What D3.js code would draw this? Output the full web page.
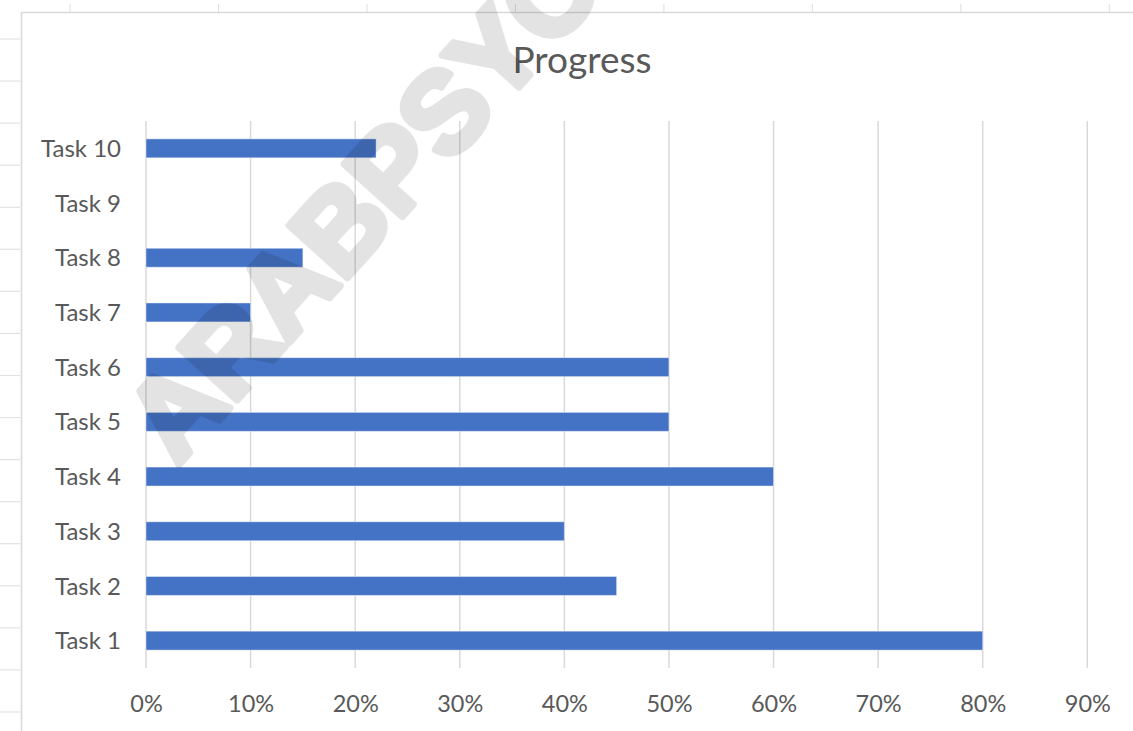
<!DOCTYPE html>
<html>
<head>
<meta charset="utf-8">
<script src="https://cdn.jsdelivr.net/npm/d3@7/dist/d3.min.js"></script>
<style>
  html, body { margin: 0; padding: 0; background: #fff; }
  svg { display: block; }
</style>
</head>
<body>
<svg id="chart" width="1133" height="731"></svg>
<script>
const categories = ["Task 1", "Task 2", "Task 3", "Task 4", "Task 5", "Task 6", "Task 7", "Task 8", "Task 9", "Task 10"];
const progress = [0.80, 0.45, 0.40, 0.60, 0.50, 0.50, 0.10, 0.15, 0.00, 0.22];
const xTicks = [0, 0.1, 0.2, 0.3, 0.4, 0.5, 0.6, 0.7, 0.8, 0.9];
const titleText = "Progress";
const watermarkText = "ARABPSYC";

const W = 1133, H = 731;
const svg = d3.select("#chart");
const font = "Lato, 'Open Sans', sans-serif";
const textColor = "#595959";

// spreadsheet backdrop (column / row header marks and chart frame)
const deco = svg.append("g");
d3.range(8).forEach(i => {
  const x = 70 + i * 148.47;
  deco.append("line").attr("x1", x).attr("x2", x).attr("y1", 4).attr("y2", 12)
    .attr("stroke", "#e2e2e2").attr("stroke-width", 1.2);
});
d3.range(17).forEach(i => {
  const y = 39 + i * 42.06;
  deco.append("line").attr("x1", 0).attr("x2", 20).attr("y1", y).attr("y2", y)
    .attr("stroke", "#e2e2e2").attr("stroke-width", 1.2);
});
deco.append("path").attr("d", `M21.5,${H} L21.5,12.5 L${W},12.5`)
  .attr("fill", "none").attr("stroke", "#d9d9d9").attr("stroke-width", 1.6);

// scales
const x = d3.scaleLinear().domain([0, 0.9]).range([146, 1087.3]);
const y = d3.scaleBand().domain(categories.slice().reverse()).range([121, 668])
  .paddingInner(0.653).paddingOuter(0.3265);

// gridlines
svg.append("g").selectAll("line").data(xTicks).join("line")
  .attr("x1", d => x(d)).attr("x2", d => x(d))
  .attr("y1", 121).attr("y2", 668)
  .attr("stroke", "#d9d9d9").attr("stroke-width", 1.5);

// bars
svg.append("g").selectAll("rect").data(categories.map((c, i) => ({c, v: progress[i]})).filter(d => d.v > 0))
  .join("rect")
  .attr("x", x(0)).attr("y", d => y(d.c))
  .attr("width", d => x(d.v) - x(0)).attr("height", y.bandwidth())
  .attr("fill", "#4472C4")
  .attr("stroke", "rgba(255,255,255,0.45)").attr("stroke-width", 1);

// x axis labels
const xAxis = d3.axisBottom(x).tickValues(xTicks).tickFormat(d3.format(".0%")).tickSize(0).tickPadding(0);
const gx = svg.append("g").attr("transform", "translate(0,695)").call(xAxis);
gx.select(".domain").remove();
gx.selectAll("text").attr("font-family", font).attr("font-size", 23.5).attr("fill", textColor)
  .attr("dy", "0.72em");

// y axis labels
const yAxis = d3.axisLeft(y).tickSize(0).tickPadding(0);
const gy = svg.append("g").attr("transform", "translate(121,0)").call(yAxis);
gy.select(".domain").remove();
gy.selectAll("text").attr("font-family", font).attr("font-size", 24).attr("fill", textColor)
  .attr("dy", "0.36em");

// title
svg.append("text").attr("x", 582).attr("y", 73).attr("text-anchor", "middle")
  .attr("font-family", font).attr("font-size", 37).attr("fill", textColor).text(titleText);

// watermark
svg.append("g").attr("opacity", 0.105)
  .append("text").attr("transform", "translate(177,467) rotate(-48)")
  .attr("font-family", "'Liberation Sans', Arial, sans-serif").attr("font-weight", "bold")
  .attr("font-size", 114).attr("fill", "#000")
  .attr("stroke", "#000").attr("stroke-width", 7).attr("stroke-linejoin", "round")
  .text(watermarkText);
</script>
</body>
</html>
